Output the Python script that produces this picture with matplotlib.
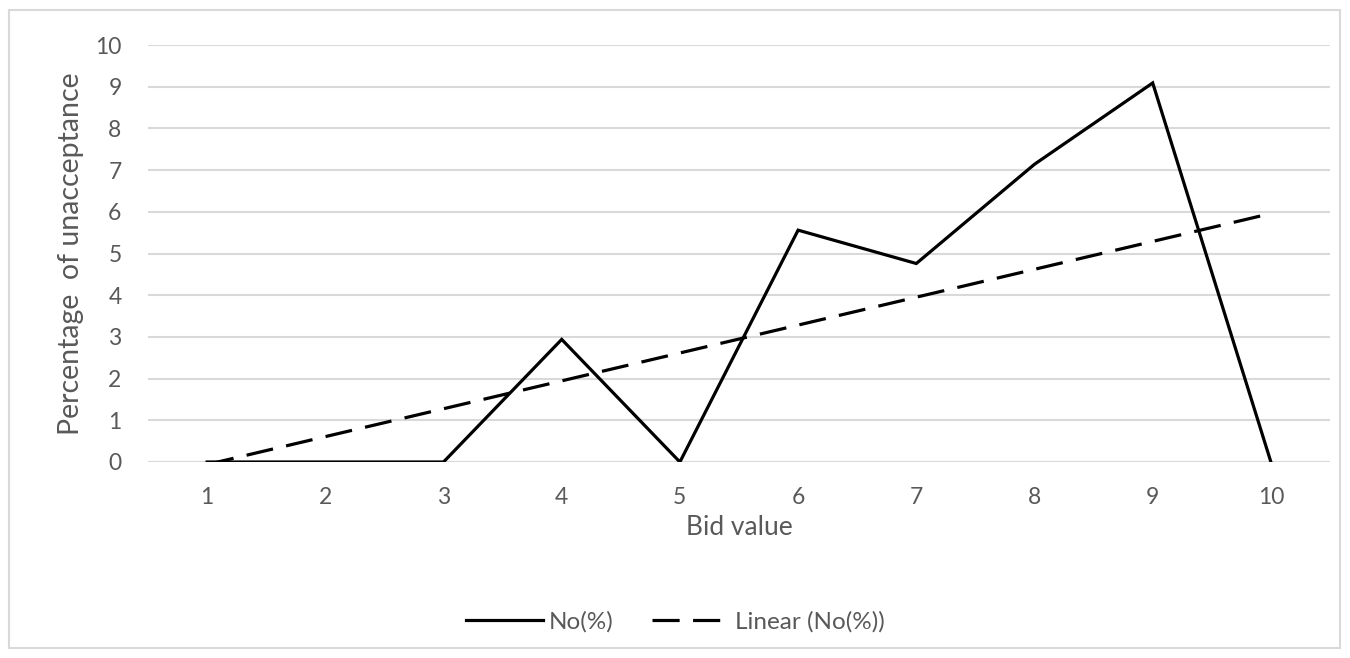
import numpy as np
import matplotlib
matplotlib.use("Agg")
import matplotlib.pyplot as plt
from matplotlib.patches import Rectangle

# bid values and share of respondents who did not accept (%)
bids = [1, 2, 3, 4, 5, 6, 7, 8, 9, 10]
no_pct = [0.0, 0.0, 0.0, 2.94, 0.0, 5.56, 4.76, 7.14, 9.09, 0.0]
y_ticks = [0, 1, 2, 3, 4, 5, 6, 7, 8, 9, 10]

TXT = "#595959"
GRID = "#d9d9d9"
plt.rcParams["font.family"] = ["Lato", "DejaVu Sans"]

fig = plt.figure(figsize=(13.5, 6.58), dpi=100)
ax = fig.add_axes([148 / 1350, 1 - 462 / 658, (1330 - 148) / 1350, (462 - 45) / 658])

# chart border
fig.patches.append(Rectangle((9 / 1350, 10 / 658), 1331 / 1350, 638 / 658,
                             transform=fig.transFigure, fill=False,
                             edgecolor=GRID, lw=1.5))

x = np.array(bids, dtype=float)
y = np.array(no_pct)
ax.plot(x, y, color="black", lw=2.3, solid_joinstyle="miter", label="No(%)", zorder=3)

# least-squares trend line
slope, icpt = np.polyfit(x, y, 1)
ax.plot(x, slope * x + icpt, color="black", lw=2.3, dashes=(8.5, 4.2),
        label="Linear (No(%))", zorder=3)

ax.set_xlim(0.5, 10.5)
ax.set_ylim(0, 10)
ax.set_xticks(bids)
ax.set_yticks(y_ticks)
ax.tick_params(length=0, labelsize=16.5, colors=TXT)
ax.tick_params(axis="x", pad=18)
ax.tick_params(axis="y", pad=19)
ax.grid(axis="y", color=GRID, lw=1.5)
ax.set_axisbelow(True)
for s in ax.spines.values():
    s.set_visible(False)
ax.axhline(0, color=GRID, lw=1.5, zorder=1)

ax.set_xlabel("Bid value", fontsize=19, color=TXT)
ax.xaxis.set_label_coords(0.5, -0.128)
ax.set_ylabel("Percentage  of unacceptance", fontsize=20.5, color=TXT, labelpad=8)

leg = fig.legend(loc="center", bbox_to_anchor=(0.5, 1 - 622 / 658), ncol=2,
                 frameon=False, fontsize=17.5, handlelength=3.2,
                 handletextpad=0.2, columnspacing=1.6)
for t in leg.get_texts():
    t.set_color(TXT)

fig.savefig("out.png", dpi=100)
